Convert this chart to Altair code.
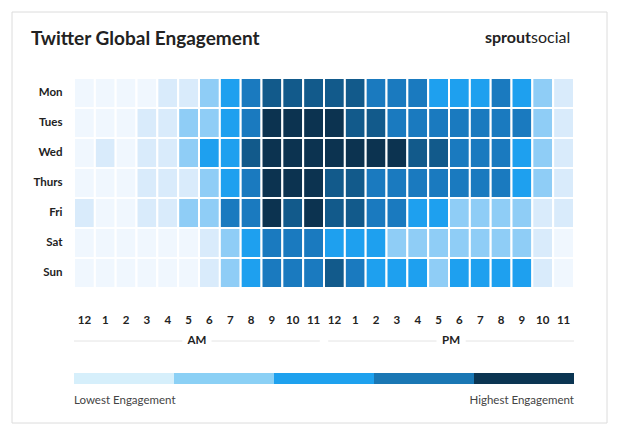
import altair as alt
import pandas as pd

days = ["Mon", "Tues", "Wed", "Thurs", "Fri", "Sat", "Sun"]
hour_labels = ["12", "1", "2", "3", "4", "5", "6", "7", "8", "9", "10", "11",
               "12", "1", "2", "3", "4", "5", "6", "7", "8", "9", "10", "11"]

# engagement level (0 = lowest .. 6 = highest) per hour, 12 AM .. 11 PM
mon   = [0, 0, 0, 0, 1, 1, 2, 3, 4, 5, 5, 5, 5, 5, 4, 4, 4, 3, 3, 3, 4, 3, 2, 1]
tues  = [0, 0, 0, 1, 1, 2, 2, 3, 4, 6, 6, 6, 6, 5, 5, 4, 4, 4, 4, 4, 4, 4, 2, 1]
wed   = [0, 1, 0, 1, 1, 2, 3, 3, 5, 6, 6, 6, 6, 6, 6, 6, 5, 5, 4, 4, 4, 3, 2, 1]
thurs = [0, 0, 0, 1, 1, 1, 2, 3, 4, 6, 6, 6, 5, 5, 4, 4, 4, 4, 4, 4, 4, 3, 2, 1]
fri   = [1, 0, 0, 1, 1, 2, 2, 4, 4, 6, 5, 6, 5, 5, 4, 4, 3, 3, 2, 2, 2, 2, 1, 1]
sat   = [0, 0, 0, 0, 0, 0, 1, 2, 3, 4, 4, 4, 3, 3, 3, 2, 2, 2, 2, 2, 2, 2, 1, 0]
sun   = [0, 0, 0, 0, 0, 0, 1, 2, 3, 4, 4, 4, 5, 4, 3, 3, 3, 2, 3, 3, 3, 3, 1, 0]
levels = [mon, tues, wed, thurs, fri, sat, sun]

level_colors = ["#f0f7fe", "#d9ebfb", "#8fcdf6", "#1ea0ef", "#1a7abf", "#125a8b", "#0c3350"]
legend_colors = ["#d6effb", "#8bd0f5", "#1ea1ee", "#1a77b4", "#0b3552"]
periods = ["AM", "PM"]

FONT = "Lato"
rows = []
for d, lv in zip(days, levels):
    for h, v in enumerate(lv):
        rows.append({"day": d, "h": h, "h2": h + 1, "level": v})
df = pd.DataFrame(rows)

xscale = alt.Scale(domain=[0, 24], nice=False, zero=False)

heat = alt.Chart(df).mark_rect(stroke="white", strokeWidth=2).encode(
    x=alt.X("h:Q", scale=xscale, axis=None),
    x2="h2:Q",
    y=alt.Y("day:N", sort=days, scale=alt.Scale(paddingInner=0, paddingOuter=0),
            axis=alt.Axis(ticks=False, domain=False, title=None, labelPadding=12,
                          labelFontSize=11.5, labelFontWeight="bold",
                          labelColor="#222", labelFont=FONT)),
    color=alt.Color("level:O", scale=alt.Scale(domain=list(range(7)), range=level_colors),
                    legend=None),
)

hl_df = pd.DataFrame({"h": [i + 0.5 for i in range(24)], "t": hour_labels})
hours = alt.Chart(hl_df).mark_text(font=FONT, fontSize=11.5, fontWeight="bold",
                                   color="#222", baseline="middle").encode(
    x=alt.X("h:Q", scale=xscale, axis=None), y=alt.value(243), text="t:N")

# AM / PM separators
seg_rows = []
txt_rows = []
for i, p in enumerate(periods):
    s = i * 12 + (0.2 if i else 0)
    e = (i + 1) * 12 - (0 if i else 0.2)
    c = (s + e) / 2
    seg_rows.append({"h": s, "b": c - 0.7})
    seg_rows.append({"h": c + 0.7, "b": e})
    txt_rows.append({"p": p, "h": c})
seg_df = pd.DataFrame(seg_rows)
txt_df = pd.DataFrame(txt_rows)

seg = alt.Chart(seg_df).mark_rule(color="#e4e4e4", strokeWidth=1).encode(
    x=alt.X("h:Q", scale=xscale, axis=None), x2="b:Q", y=alt.value(263))
ptxt = alt.Chart(txt_df).mark_text(font=FONT, fontSize=11.5, fontWeight="bold",
                                   color="#222", baseline="middle").encode(
    x=alt.X("h:Q", scale=xscale, axis=None), y=alt.value(263), text="p:N")

leg_df = pd.DataFrame({"h": [i * 24 / 5 for i in range(5)],
                       "e": [(i + 1) * 24 / 5 for i in range(5)],
                       "col": legend_colors})
leg = alt.Chart(leg_df).mark_rect().encode(
    x=alt.X("h:Q", scale=xscale, axis=None), x2="e:Q",
    y=alt.value(295), y2=alt.value(306),
    color=alt.Color("col:N", scale=None))

lab_df = pd.DataFrame({"t": ["Lowest Engagement", "Highest Engagement"],
                       "h": [0, 24]})
low = alt.Chart(lab_df.iloc[[0]]).mark_text(font=FONT, fontSize=11.5, color="#444",
                                            align="left", baseline="middle").encode(
    x=alt.X("h:Q", scale=xscale, axis=None), y=alt.value(323), text="t:N")
high = alt.Chart(lab_df.iloc[[1]]).mark_text(font=FONT, fontSize=11.5, color="#444",
                                             align="right", baseline="middle").encode(
    x=alt.X("h:Q", scale=xscale, axis=None), y=alt.value(323), text="t:N")

one = pd.DataFrame({"k": [0]})
card = alt.Chart(one).mark_rect(fill="white", stroke="#dcdcdc", strokeWidth=1).encode(
    x=alt.value(-62), x2=alt.value(533), y=alt.value(-66), y2=alt.value(345))
title = alt.Chart(one).mark_text(text="Twitter Global Engagement", font=FONT, fontSize=19,
                                 fontWeight="bold", color="#222", align="left",
                                 baseline="middle").encode(
    x=alt.value(-43), y=alt.value(-39))
sprout = alt.Chart(one).mark_text(text="sprout", font=FONT, fontSize=16, fontWeight="bold",
                                  color="#222", align="right", baseline="middle").encode(
    x=alt.value(457), y=alt.value(-40))
social = alt.Chart(one).mark_text(text="social", font=FONT, fontSize=16,
                                  color="#222", align="left", baseline="middle").encode(
    x=alt.value(457), y=alt.value(-40))

chart = alt.layer(card, heat, hours, seg, ptxt, leg, low, high, title, sprout, social).properties(
    width=500, height=210,
    padding={"left": 66, "top": 70, "right": 36, "bottom": 136},
    autosize=alt.AutoSizeParams(type="none"),
    background="white",
).configure_view(stroke=None)

chart.save("out.html", embed_options={"renderer": "svg", "actions": False})
